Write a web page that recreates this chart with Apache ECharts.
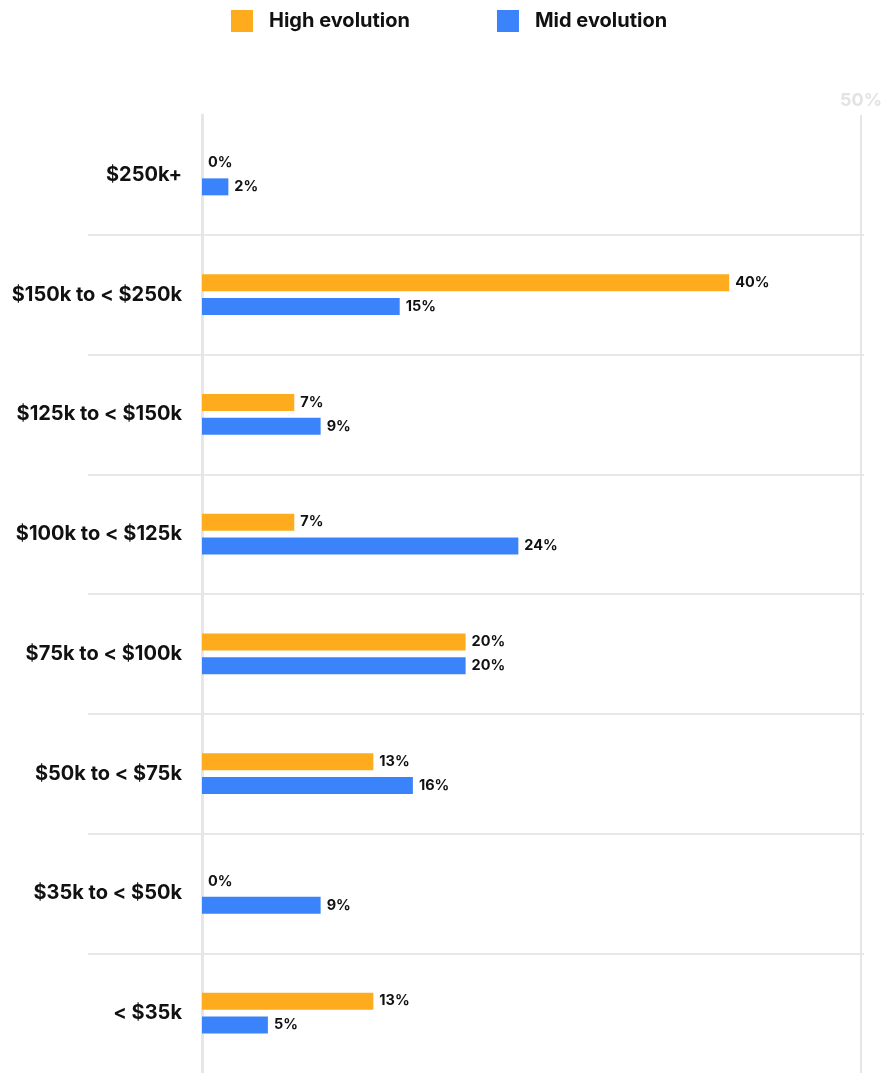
<!DOCTYPE html>
<html>
<head>
<meta charset="utf-8">
<script src="https://cdn.jsdelivr.net/npm/echarts@6/dist/echarts.min.js"></script>
<style>
html,body{margin:0;padding:0;background:#fff;}
#chart{width:885px;height:1073px;}
</style>
</head>
<body>
<div id="chart"></div>
<script>
const categories = ['$250k+', '$150k to < $250k', '$125k to < $150k', '$100k to < $125k', '$75k to < $100k', '$50k to < $75k', '$35k to < $50k', '< $35k'];
const highEvolution = [0, 40, 7, 7, 20, 13, 0, 13];
const midEvolution = [2, 15, 9, 24, 20, 16, 9, 5];
const seriesNames = ['High evolution', 'Mid evolution'];

const FONT = 'Inter';
const chart = echarts.init(document.getElementById('chart'));

const valueLabel = {
  show: true,
  position: 'right',
  distance: 6,
  formatter: p => p.value + '%',
  color: '#111',
  fontFamily: FONT,
  fontWeight: 'bold',
  fontSize: 14.5
};

chart.setOption({
  animation: false,
  legend: {
    top: 5,
    left: 226,
    itemWidth: 22,
    itemHeight: 22,
    itemGap: 87,
    icon: 'rect',
    textStyle: { fontFamily: FONT, fontWeight: 'bold', fontSize: 20, color: '#111', padding: [0, 0, 0, 11] },
    data: seriesNames
  },
  grid: [
    { left: 202, right: 21, top: 115, height: 962, containLabel: false },
    { left: 88, right: 21, top: 115, height: 962, containLabel: false }
  ],
  xAxis: [
    {
      gridIndex: 0, type: 'value', min: 0, max: 50, interval: 50, position: 'top',
      axisLine: { show: false }, axisTick: { show: false },
      splitLine: { show: true, lineStyle: { color: '#e6e6e6', width: 2 } },
      axisLabel: {
        formatter: v => v === 50 ? '50%' : '',
        color: '#e3e3e3', fontFamily: FONT, fontWeight: 'bold', fontSize: 18, margin: 5
      }
    },
    {
      gridIndex: 1, type: 'value', min: 0, max: 50, show: false
    }
  ],
  yAxis: [
    {
      gridIndex: 0, type: 'category', data: categories, inverse: true,
      axisLine: { show: true, lineStyle: { color: '#e6e6e6', width: 3 } },
      axisTick: { show: false },
      splitLine: { show: false },
      axisLabel: { margin: 20, color: '#111', fontFamily: FONT, fontWeight: 'bold', fontSize: 20 }
    },
    {
      gridIndex: 1, type: 'category', data: categories, inverse: true,
      axisLine: { show: false }, axisTick: { show: false }, axisLabel: { show: false },
      splitLine: { show: true, showMinLine: false, showMaxLine: false, interval: 0, lineStyle: { color: '#e8e8e8', width: 2 } }
    }
  ],
  series: [
    {
      name: seriesNames[0], type: 'bar', xAxisIndex: 0, yAxisIndex: 0,
      data: highEvolution, barWidth: 17, barGap: '41%',
      itemStyle: { color: '#FEAC1E' }, label: valueLabel
    },
    {
      name: seriesNames[1], type: 'bar', xAxisIndex: 0, yAxisIndex: 0,
      data: midEvolution, barWidth: 17, barGap: '41%',
      itemStyle: { color: '#3B83FA' }, label: valueLabel
    }
  ]
});
</script>
</body>
</html>
